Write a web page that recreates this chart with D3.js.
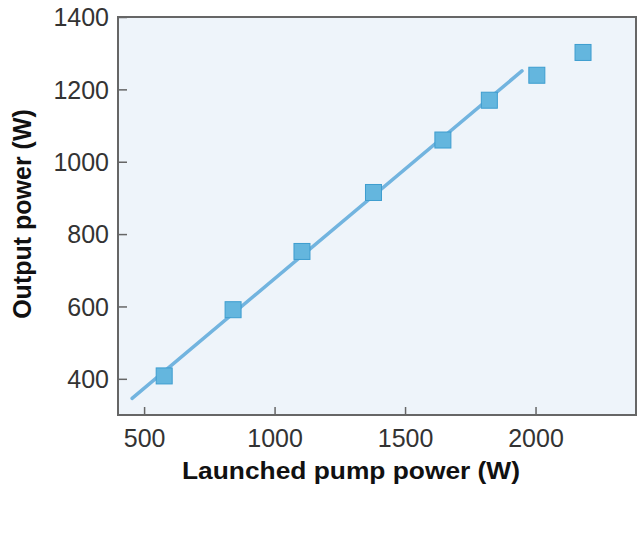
<!DOCTYPE html>
<html>
<head>
<meta charset="utf-8">
<script src="https://cdn.jsdelivr.net/npm/d3@7"></script>
<style>
  html, body { margin: 0; padding: 0; background: #fff; }
  svg { display: block; }
</style>
</head>
<body>
<svg id="chart" width="640" height="540"></svg>
<script>
// Data
const pumpPower   = [577, 841, 1105, 1379, 1645, 1823, 2005, 2182];
const outputPower = [408, 591, 752, 915, 1060, 1170, 1239, 1302];
const fitX = [454, 1948];
const fitY = [346, 1251];
const xTicks = [500, 1000, 1500, 2000];
const yTicks = [400, 600, 800, 1000, 1200, 1400];
const xTitle = "Launched pump power (W)";
const yTitle = "Output power (W)";

const svg = d3.select("#chart");
const L = 118, R = 636, T = 17, B = 415;

const x = d3.scaleLinear().domain([400, 2385]).range([L, R]);
const y = d3.scaleLinear().domain([300, 1400]).range([B, T]);

// plot background
svg.append("rect")
  .attr("x", L).attr("y", T).attr("width", R - L).attr("height", B - T)
  .attr("fill", "#eef4fa");

// fit line
svg.append("line")
  .attr("x1", x(fitX[0])).attr("y1", y(fitY[0]))
  .attr("x2", x(fitX[1])).attr("y2", y(fitY[1]))
  .attr("stroke", "#72b4df").attr("stroke-width", 3.5)
  .attr("stroke-linecap", "round");

// markers
const sz = 16;
svg.append("g").selectAll("rect")
  .data(pumpPower.map((p, i) => [p, outputPower[i]]))
  .join("rect")
  .attr("x", d => x(d[0]) - sz / 2)
  .attr("y", d => y(d[1]) - sz / 2)
  .attr("width", sz).attr("height", sz)
  .attr("fill", "#64b6de")
  .attr("stroke", "#3d9dcf").attr("stroke-width", 1);

// axes
const fmt = d3.format("d");
const xAxis = d3.axisBottom(x).tickValues(xTicks).tickFormat(fmt).tickSizeInner(-8).tickSizeOuter(0).tickPadding(14);
const yAxis = d3.axisLeft(y).tickValues(yTicks).tickFormat(fmt).tickSizeInner(-9).tickSizeOuter(0).tickPadding(9);

const gx = svg.append("g").attr("transform", `translate(0,${B})`).call(xAxis);
const gy = svg.append("g").attr("transform", `translate(${L},0)`).call(yAxis);

[gx, gy].forEach(g => {
  g.select(".domain").remove();
  g.selectAll(".tick line").attr("stroke", "#666").attr("stroke-width", 1.5);
  g.selectAll(".tick text")
    .attr("fill", "#333")
    .style("font-family", "'Liberation Sans', Arial, Helvetica, sans-serif")
    .style("font-size", "25px");
});
gx.selectAll(".tick text").attr("dy", "0.71em");
gy.selectAll(".tick text").attr("dy", "0.35em");

// frame
svg.append("rect")
  .attr("x", L).attr("y", T).attr("width", R - L).attr("height", B - T)
  .attr("fill", "none").attr("stroke", "#666").attr("stroke-width", 2);

// titles
svg.append("text")
  .attr("x", 351).attr("y", 479)
  .attr("text-anchor", "middle")
  .attr("textLength", 338).attr("lengthAdjust", "spacingAndGlyphs")
  .style("font-family", "'Liberation Sans', Arial, Helvetica, sans-serif")
  .style("font-size", "24px").style("font-weight", "bold")
  .attr("fill", "#111")
  .text(xTitle);

svg.append("text")
  .attr("transform", "translate(31,214) rotate(-90)")
  .attr("text-anchor", "middle")
  .style("font-family", "'Liberation Sans', Arial, Helvetica, sans-serif")
  .style("font-size", "25px").style("font-weight", "bold")
  .attr("fill", "#111")
  .text(yTitle);
</script>
</body>
</html>
